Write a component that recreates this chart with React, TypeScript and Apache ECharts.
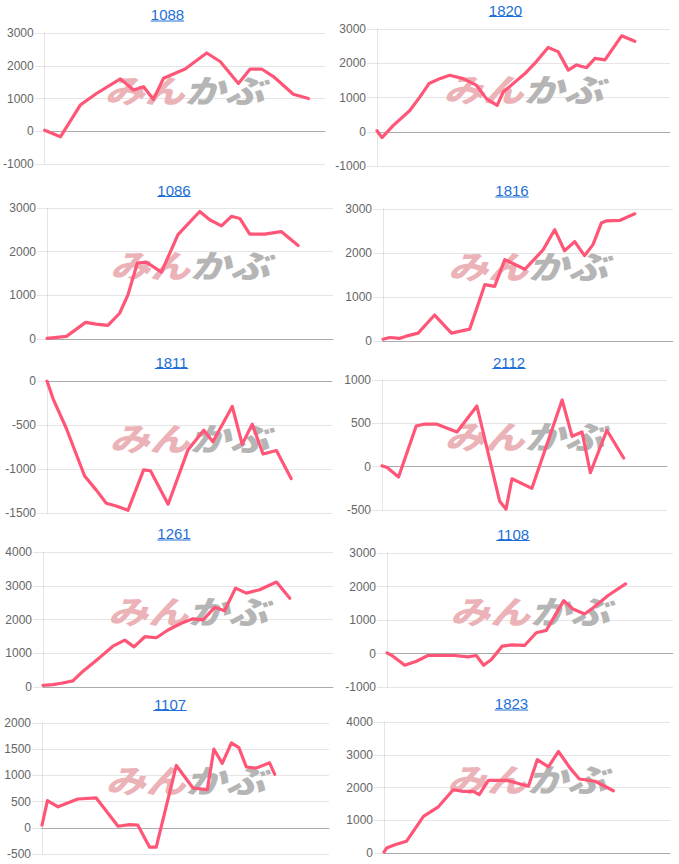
import React, { useEffect, useRef } from "react";
import * as echarts from "echarts";

// ---- data (t = relative time position 0..100 along the x axis, v = value) ----
const titles = ["1088", "1820", "1086", "1816", "1811", "2112", "1261", "1108", "1107", "1823"];

const t1088 = [0, 5.6, 12.7, 18.6, 27.0, 31.7, 35.3, 38.8, 42.4, 50.1, 57.8, 62.6, 69.1, 73.3, 77.4, 81.6, 88.7, 94.1];
const v1088 = [30, -170, 800, 1160, 1600, 1260, 1360, 970, 1620, 1900, 2390, 2130, 1460, 1900, 1900, 1670, 1130, 1000];

const t1820 = [0, 1.7, 5.5, 11.2, 14.6, 17.8, 21.4, 24.8, 29.4, 33.9, 37.4, 41.0, 43.1, 50.5, 54.4, 58.4, 61.8, 65.3, 68.1, 71.5, 74.4, 77.8, 83.5, 88.0];
const v1820 = [30, -170, 180, 620, 1010, 1410, 1550, 1650, 1550, 1360, 960, 770, 1160, 1700, 2050, 2460, 2340, 1800, 1950, 1870, 2140, 2100, 2800, 2640];

const t1086 = [0, 6.8, 13.5, 17.2, 21.3, 25.4, 28.3, 31.6, 34.7, 40.0, 45.8, 53.4, 56.9, 61.0, 64.5, 67.4, 70.9, 76.1, 81.9, 87.8];
const v1086 = [15, 60, 380, 340, 310, 590, 1010, 1740, 1760, 1530, 2390, 2920, 2730, 2590, 2810, 2760, 2400, 2400, 2460, 2140];

const t1816 = [0, 2.3, 5.7, 8.0, 12.1, 17.8, 23.6, 29.9, 35.1, 38.5, 42.0, 48.9, 55.2, 59.2, 62.6, 66.1, 69.5, 72.4, 75.3, 77.0, 81.6, 86.8];
const v1816 = [40, 80, 60, 110, 180, 590, 180, 270, 1280, 1240, 1850, 1630, 2070, 2530, 2050, 2260, 1940, 2190, 2680, 2730, 2740, 2890];

const t1811 = [0, 2.1, 6.8, 13.2, 17.3, 20.8, 24.3, 28.4, 33.9, 36.3, 42.5, 49.5, 55.0, 58.2, 65.0, 68.5, 72.0, 75.8, 80.5, 85.7];
const v1811 = [0, -200, -540, -1080, -1240, -1390, -1420, -1470, -1010, -1020, -1400, -780, -560, -690, -290, -720, -490, -830, -790, -1110];

const t2112 = [0, 1.8, 5.8, 12.0, 14.6, 19.3, 26.3, 33.3, 41.3, 43.5, 45.6, 52.6, 63.2, 66.7, 70.2, 73.1, 78.9, 84.8];
const v2112 = [10, -10, -120, 470, 490, 490, 400, 700, -400, -490, -140, -250, 770, 350, 400, -70, 420, 100];

const t1261 = [0, 3.4, 6.3, 10.3, 13.8, 19.5, 24.1, 28.2, 31.4, 35.1, 39.1, 43.1, 47.7, 51.7, 55.2, 59.2, 62.6, 66.4, 70.1, 74.7, 80.5, 85.1];
const v1261 = [50, 70, 110, 180, 470, 870, 1210, 1390, 1190, 1490, 1460, 1690, 1890, 2020, 1990, 2360, 2260, 2930, 2780, 2880, 3110, 2630];

const t1108 = [0, 2.1, 6.2, 10.3, 14.3, 23.7, 28.3, 31.2, 33.8, 36.5, 40.3, 43.8, 48.1, 52.2, 55.7, 61.8, 65.0, 69.1, 72.0, 77.3, 83.4];
const v1108 = [20, -80, -350, -230, -60, -60, -100, -60, -350, -180, 220, 260, 240, 620, 690, 1580, 1330, 1180, 1360, 1730, 2080];

const t1107 = [0, 1.9, 5.6, 12.5, 18.9, 26.5, 30.5, 33.4, 37.5, 39.8, 46.8, 52.6, 57.6, 59.9, 62.8, 66.0, 68.6, 71.2, 74.7, 79.3, 81.1];
const v1107 = [50, 520, 400, 550, 570, 30, 60, 50, -370, -370, 1190, 760, 730, 1500, 1230, 1620, 1530, 1160, 1140, 1240, 1020];

const t1823 = [0, 0.9, 3.8, 7.9, 13.8, 19.0, 24.2, 27.7, 31.2, 33.3, 36.5, 42.9, 50.5, 53.6, 57.5, 61.0, 65.0, 68.3, 73.8, 80.2];
const v1823 = [30, 150, 250, 360, 1120, 1410, 1930, 1880, 1880, 1780, 2220, 2220, 2040, 2850, 2630, 3100, 2600, 2260, 2190, 1900];

const seriesT = [t1088, t1820, t1086, t1816, t1811, t2112, t1261, t1108, t1107, t1823];
const seriesV = [v1088, v1820, v1086, v1816, v1811, v2112, v1261, v1108, v1107, v1823];

// y-axis tick ranges
const yMin = [-1000, -1000, 0, 0, -1500, -500, 0, -1000, -500, 0];
const yMax = [3000, 3000, 3000, 3000, 0, 1000, 4000, 3000, 2000, 4000];
const yStep = [1000, 1000, 1000, 1000, 500, 500, 1000, 1000, 500, 1000];

// ---- layout (px) ----
const layout = [
  { l: 44, t: 33, w: 281, h: 131, tx: 167.5, ty: 14.5 },
  { l: 377, t: 29, w: 293, h: 137, tx: 505.5, ty: 10 },
  { l: 47, t: 208, w: 286, h: 131, tx: 174, ty: 190 },
  { l: 383, t: 209, w: 290, h: 132, tx: 512, ty: 190.5 },
  { l: 47, t: 381, w: 285, h: 132, tx: 171.5, ty: 362 },
  { l: 382, t: 380, w: 285, h: 130, tx: 509, ty: 362 },
  { l: 43, t: 552, w: 290, h: 135, tx: 174, ty: 533.5 },
  { l: 387, t: 553, w: 286, h: 134, tx: 513, ty: 534 },
  { l: 42, t: 723, w: 287, h: 131, tx: 170, ty: 704 },
  { l: 384, t: 722, w: 286, h: 131, tx: 511.5, ty: 703.5 },
];

const LINE = "rgb(255, 86, 120)";
const LINK = "#1e6fd6";
const FONT = "'Liberation Sans', Arial, Helvetica, sans-serif";

export default function App() {
  const ref = useRef<HTMLDivElement>(null);

  useEffect(() => {
    if (!ref.current) return;
    const chart = echarts.init(ref.current, undefined, { renderer: "svg" });

    const grids = layout.map((g) => ({ left: g.l, top: g.t, width: g.w, height: g.h, containLabel: false }));
    const xAxes = layout.map((_, i) => ({
      type: "value",
      gridIndex: i,
      min: 0,
      max: 100,
      axisLabel: { show: false },
      axisTick: { show: false },
      splitLine: { show: false },
      axisLine: { show: true, onZero: true, lineStyle: { color: "rgba(0,0,0,0.25)", width: 1 } },
    }));
    const yAxes = layout.map((_, i) => ({
      type: "value",
      gridIndex: i,
      min: yMin[i],
      max: yMax[i],
      interval: yStep[i],
      axisLine: { show: true, lineStyle: { color: "rgba(0,0,0,0.1)" } },
      axisTick: { show: true, length: 10, lineStyle: { color: "rgba(0,0,0,0.1)" } },
      axisLabel: {
        color: "#666",
        fontSize: 12,
        fontFamily: FONT,
        margin: 11,
        formatter: (val: number) => String(val),
      },
      splitLine: { show: true, lineStyle: { color: "rgba(0,0,0,0.1)" } },
    }));
    const series = seriesT.map((ts, i) => ({
      type: "line",
      xAxisIndex: i,
      yAxisIndex: i,
      data: ts.map((t, k) => [t, seriesV[i][k]]),
      showSymbol: false,
      symbol: "none",
      silent: true,
      z: 5,
      lineStyle: { color: LINE, width: 3.2, join: "round", cap: "round" },
    }));

    const graphics: any[] = [];
    layout.forEach((g, i) => {
      const halfW = titles[i].length * 8.34 / 2;
      graphics.push({
        type: "text",
        x: g.tx,
        y: g.ty,
        z: 10,
        style: {
          text: titles[i],
          fill: LINK,
          fontSize: 15,
          fontFamily: FONT,
          align: "center",
          verticalAlign: "middle",
        },
      });
      graphics.push({
        type: "line",
        z: 10,
        shape: { x1: g.tx - halfW, y1: g.ty + 6.5, x2: g.tx + halfW, y2: g.ty + 6.5 },
        style: { stroke: LINK, lineWidth: 1 },
      });
      // watermark logo
      graphics.push({
        type: "text",
        x: g.l + g.w / 2,
        y: g.t + g.h / 2 - 10,
        z: 1,
        scaleY: 0.8,
        style: {
          text: "{a|みん}{b|かぶ}",
          align: "center",
          verticalAlign: "middle",
          rich: {
            a: {
              fontSize: 40,
              fontWeight: 900,
              fontStyle: "italic",
              fontFamily: "'Noto Sans CJK JP', sans-serif",
              fill: "#ebb3b7",
            },
            b: {
              fontSize: 40,
              fontWeight: 900,
              fontStyle: "italic",
              fontFamily: "'Noto Sans CJK JP', sans-serif",
              fill: "#b5b5b5",
            },
          },
        },
      });
    });

    chart.setOption({
      animation: false,
      backgroundColor: "#fff",
      grid: grids,
      xAxis: xAxes,
      yAxis: yAxes,
      series,
      graphic: { elements: graphics },
    } as any);

    return () => chart.dispose();
  }, []);

  return (
    <div
      ref={ref}
      style={{ position: "absolute", left: 0, top: 0, width: 679, height: 864, background: "#fff" }}
    />
  );
}
